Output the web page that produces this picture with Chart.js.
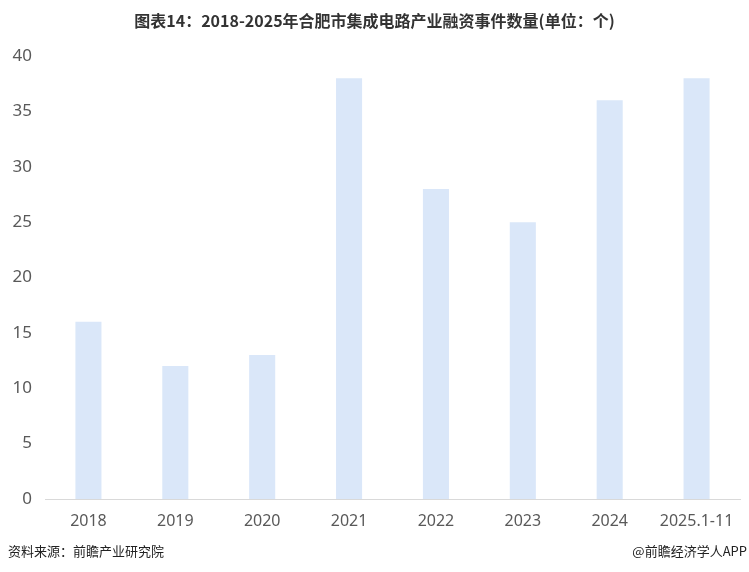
<!DOCTYPE html>
<html>
<head>
<meta charset="utf-8">
<script src="https://cdn.jsdelivr.net/npm/chart.js@4/dist/chart.umd.min.js"></script>
<style>
  html, body { margin: 0; padding: 0; background: #fff; }
  .wrap { position: relative; width: 749px; height: 572px; }
  .title {
    position: absolute; left: 0; top: 8px; width: 749px; text-align: center;
    font: bold 16px "Noto Sans CJK SC", sans-serif; color: #333;
  }
  .src { position: absolute; left: 8px; top: 541px; font: 13px "Noto Sans CJK SC", sans-serif; color: #222; }
  .app { position: absolute; right: 2px; top: 541px; font: 13px "Noto Sans CJK SC", sans-serif; color: #222; }
</style>
</head>
<body>
<div class="wrap">
  <canvas id="chart" width="749" height="572"></canvas>
  <div class="title">图表14：2018-2025年合肥市集成电路产业融资事件数量(单位：个)</div>
  <div class="src">资料来源：前瞻产业研究院</div>
  <div class="app">@前瞻经济学人APP</div>
</div>
<script>
const categories = ['2018', '2019', '2020', '2021', '2022', '2023', '2024', '2025.1-11']
const counts = [16, 12, 13, 38, 28, 25, 36, 38]
const yTicks = [0, 5, 10, 15, 20, 25, 30, 35, 40]

const ctx = document.getElementById('chart').getContext('2d')
new Chart(ctx, {
  type: 'bar',
  data: {
    labels: categories,
    datasets: [
      {
        label: '融资事件数量',
        data: counts,
        backgroundColor: '#dae7f9',
        barPercentage: 0.6,
        categoryPercentage: 0.5
      }
    ]
  },
  options: {
    responsive: false,
    animation: false,
    layout: { padding: { top: 56, right: 9, bottom: 38, left: 0 } },
    plugins: {
      legend: { display: false },
      tooltip: { enabled: false }
    },
    scales: {
      x: {
        grid: { display: false, drawTicks: false },
        border: { color: '#d9d9d9', width: 1 },
        ticks: { color: '#595959', font: { family: 'Noto Sans', size: 16 }, padding: 13, maxRotation: 0 },
        afterFit: (s) => { s.height = 35 }
      },
      y: {
        min: 0,
        max: 40,
        afterBuildTicks: (s) => { s.ticks = yTicks.map(v => ({ value: v })) },
        grid: { display: false, drawTicks: false },
        border: { display: false },
        ticks: { color: '#595959', font: { family: 'Noto Sans', size: 17 }, padding: 13 },
        afterFit: (s) => { s.width = 45 }
      }
    }
  }
})
</script>
</body>
</html>
